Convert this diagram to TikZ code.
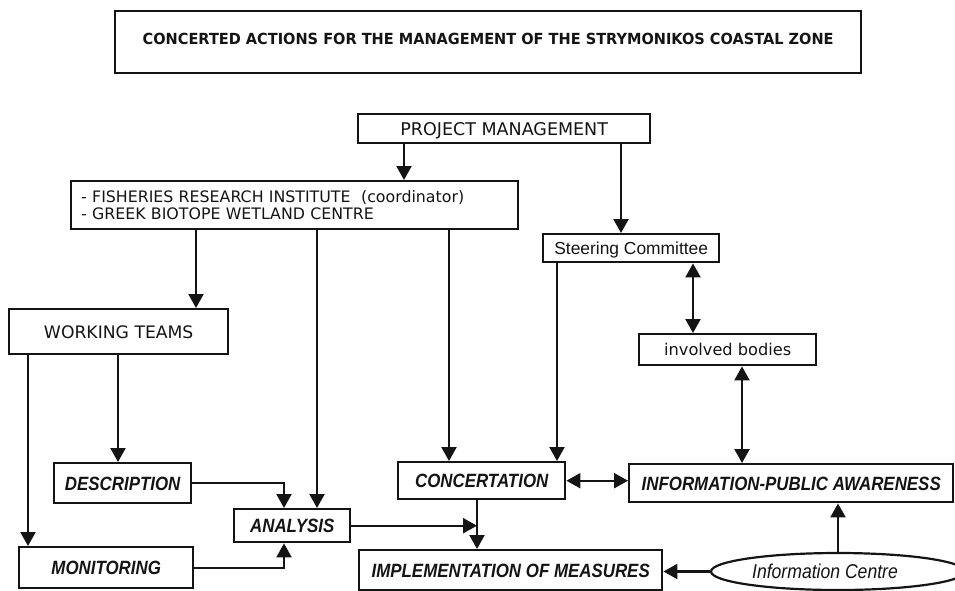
\documentclass[tikz,border=0pt]{standalone}
\usepackage{fontspec}
\setmainfont{DejaVu Sans}
\newfontfamily\arialfont{Liberation Sans}
\newfontfamily\arialnarrow[FakeStretch=0.88]{Liberation Sans}
\usepackage{xcolor}
\usepackage{tikz}
\usetikzlibrary{shapes.geometric, arrows.meta}
\definecolor{ink}{RGB}{20, 20, 20}

\begin{document}
\begin{tikzpicture}[x=1pt, y=-1pt,
    box/.style={draw=ink, line width=2.4pt, inner sep=0pt, anchor=north west, text=ink},
    plain/.style={font=\fontsize{17.5}{19}\selectfont, text height=12.8pt, text depth=0pt},
    sans/.style={font=\arialfont\fontsize{17.4}{19}\selectfont, text height=12.5pt, text depth=0pt},
    action/.style={font=\arialnarrow\bfseries\itshape\fontsize{19.2}{21}\selectfont, text height=13.7pt, text depth=0pt},
    arr/.style={draw=ink, line width=2.2pt, -{Triangle[length=14pt, width=15pt]}},
    darr/.style={draw=ink, line width=2.2pt, {Triangle[length=14pt, width=15pt]}-{Triangle[length=14pt, width=15pt]}}]
  \useasboundingbox (0,0) rectangle (955,590);

  % title
  \node[box, minimum width=746pt, minimum height=62pt,
        font=\bfseries\fontsize{15.3}{17}\selectfont, text height=11.2pt, text depth=7pt]
        (title) at (114,10)
        {\scalebox{0.95}[1]{CONCERTED ACTIONS FOR THE MANAGEMENT OF THE STRYMONIKOS COASTAL ZONE}};

  % boxes
  \node[box, plain, minimum width=292pt, minimum height=29pt] (pm) at (357,113) {PROJECT MANAGEMENT};
  \node[box, minimum width=447pt, minimum height=48pt, inner xsep=10pt, text width=427pt, align=left,
        font=\fontsize{15.8}{16.5}\selectfont]
        (fri) at (70,180)
        {- FISHERIES RESEARCH INSTITUTE\ \ (coordinator)\\- GREEK BIOTOPE WETLAND CENTRE};
  \node[box, sans, minimum width=176pt, minimum height=28pt] (sc) at (542,233) {Steering Committee};
  \node[box, plain, font=\fontsize{17.2}{19}\selectfont, text height=12.6pt,
        minimum width=219pt, minimum height=45pt] (wt) at (8,308) {WORKING TEAMS};
  \node[box, plain, font=\fontsize{16.2}{18}\selectfont, text height=12.2pt,
        minimum width=177pt, minimum height=31pt] (inv) at (638,333) {involved bodies};
  \node[box, action, minimum width=137pt, minimum height=40pt] (desc) at (53,462) {DESCRIPTION};
  \node[box, action, minimum width=167pt, minimum height=37pt] (conc) at (397,461) {CONCERTATION};
  \node[box, action, minimum width=324pt, minimum height=38pt] (info) at (628,463) {INFORMATION-PUBLIC AWARENESS};
  \node[box, action, minimum width=116pt, minimum height=33pt] (ana) at (233,508) {ANALYSIS};
  \node[box, action, minimum width=174pt, minimum height=41pt] (mon) at (18,546) {MONITORING};
  \node[box, action, minimum width=303pt, minimum height=40pt] (impl) at (358,549) {IMPLEMENTATION OF MEASURES};
  \node[ellipse, draw=ink, line width=2.2pt, inner sep=0pt, minimum width=254pt, minimum height=37pt,
        font=\arialnarrow\itshape\fontsize{20}{22}\selectfont, text=ink]
        (ic) at (838,571.5) {Information Centre\hspace*{26pt}};

  % guides for the vertical connectors
  \coordinate (gpf) at (404,0);
  \coordinate (gps) at (621,0);
  \coordinate (gfw) at (196,0);
  \coordinate (gfa) at (317,0);
  \coordinate (gfc) at (449,0);
  \coordinate (gsc) at (557,0);
  \coordinate (gsi) at (693,0);
  \coordinate (gii) at (742,0);
  \coordinate (gwm) at (28,0);
  \coordinate (gwd) at (118,0);
  \coordinate (gda) at (284,0);
  \coordinate (gci) at (477,0);

  % connectors
  \draw[arr] (pm.south -| gpf) -- (fri.north -| gpf);
  \draw[arr] (pm.south -| gps) -- (sc.north -| gps);
  \draw[arr] (fri.south -| gfw) -- (wt.north -| gfw);
  \draw[arr] (fri.south -| gfa) -- (ana.north -| gfa);
  \draw[arr] (fri.south -| gfc) -- (conc.north -| gfc);
  \draw[arr] (sc.south -| gsc) -- (conc.north -| gsc);
  \draw[darr] (sc.south -| gsi) -- (inv.north -| gsi);
  \draw[darr] (inv.south -| gii) -- (info.north -| gii);
  \draw[arr] (wt.south -| gwm) -- (mon.north -| gwm);
  \draw[arr] (wt.south -| gwd) -- (desc.north -| gwd);
  \draw[arr] (desc.east) -| (ana.north -| gda);
  \draw[arr] (mon.east) -| (ana.south -| gda);
  \draw[arr] (ana.east) -- (ana.east -| gci);
  \draw[arr] (conc.south -| gci) -- (impl.north -| gci);
  \draw[darr] (conc.east) -- (conc.east -| info.west);
  \draw[arr] (ic.north) -- (ic.north |- info.south);
  \draw[arr] (ic.west) -- (ic.west -| impl.east);
\end{tikzpicture}
\end{document}
